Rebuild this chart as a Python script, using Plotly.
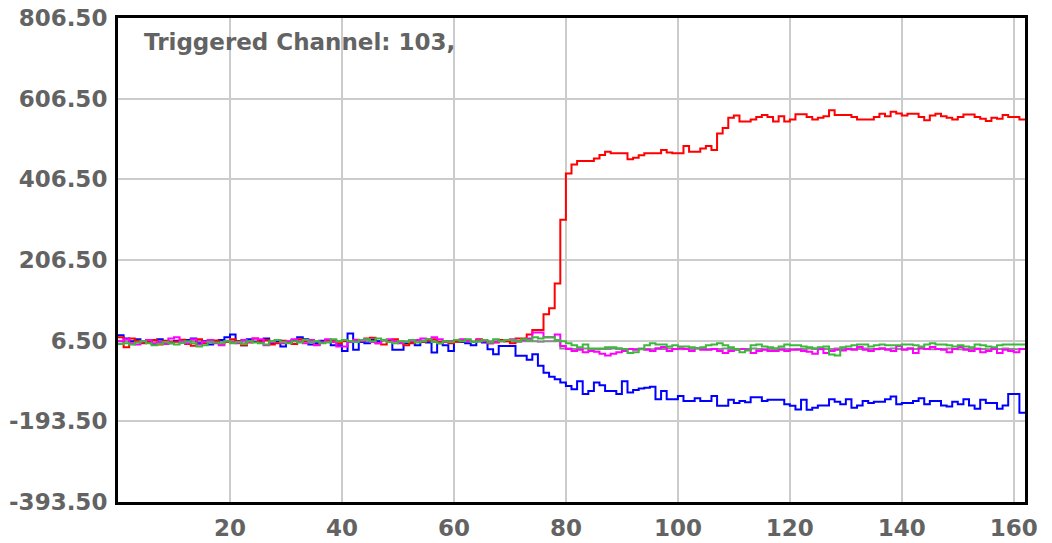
import plotly.graph_objects as go

# Bin index (each value holds over [i, i+1])
n_bins = 162

red = [15, -10, 12, 6, 0, 3, 8, -3, 6, 2,
       4, 9, -2, -6, 10, 0, 5, 7, -1, 3,
       10, 5, -5, 2, 12, 4, 8, -3, 0, 6,
       3, -2, 10, 5, 7, -4, 2, 8, 6, 0,
       5, 3, 9, 7, 12, 14, 0, -3, 5, 10,
       2, -5, 0, 8, 4, 6, 10, 3, 5, 0,
       4, 8, 6, 3, 10, 5, 0, 2, 8, 5,
       0, 12, 12, 22, 33, 33, 72, 87, 148, 306,
       421, 443, 452, 452, 452, 458, 467, 475, 471, 471,
       471, 456, 460, 466, 471, 471, 471, 479, 473, 471,
       471, 489, 475, 475, 483, 489, 479, 520, 534, 559,
       565, 550, 550, 555, 561, 566, 561, 550, 563, 550,
       555, 568, 568, 561, 555, 559, 563, 578, 566, 566,
       566, 561, 555, 555, 555, 561, 569, 563, 574, 570,
       565, 569, 569, 561, 553, 565, 569, 563, 559, 555,
       561, 567, 567, 561, 557, 551, 559, 557, 566, 561,
       561, 555]

blue = [20, 12, 5, 10, 3, 8, -2, 10, 4, 0,
        6, 2, 8, 12, 0, 5, -3, 3, 8, 15,
        22, 5, -5, 10, 3, 8, 12, 0, 5, -8,
        3, 8, 15, 10, -3, 0, 6, 8, -5, -5,
        -19, 24, -16, 3, 0, 8, 5, 8, 8, -16,
        -16, 0, 2, -5, 3, 2, -23, 0, -5, -19,
        5, 3, 0, -5, 8, 2, -15, -27, -7, -7,
        -7, -31, -31, -41, -27, -56, -73, -83, -89, -97,
        -106, -114, -94, -126, -118, -97, -104, -118, -118, -126,
        -94, -122, -116, -112, -110, -108, -139, -118, -139, -139,
        -131, -143, -143, -136, -143, -143, -131, -155, -155, -140,
        -148, -143, -146, -134, -134, -143, -140, -140, -140, -151,
        -155, -164, -140, -165, -160, -154, -154, -139, -145, -151,
        -139, -160, -154, -143, -148, -145, -145, -139, -132, -151,
        -148, -148, -143, -136, -151, -143, -143, -154, -157, -145,
        -151, -139, -154, -162, -140, -148, -148, -162, -154, -126,
        -126, -172]

green = [-2, 0, -3, 2, 5, 0, -5, -2, 3, 0,
         -3, 2, 5, 0, -8, -5, 3, 2, 0, 5,
         0, 3, -2, 5, 2, 0, -3, 5, 8, 3,
         0, 5, 2, 8, 3, 5, 0, 2, 10, 5,
         8, 5, 3, 8, 10, 5, 12, 8, 3, 0,
         5, 3, 8, 2, 5, 10, 3, 0, 5, 3,
         8, 5, 10, 3, 5, 8, 2, 10, 5, 8,
         8, 5, 10, 8, 15, 12, 15, 15, 8, 5,
         0, -5, -10, -3, -13, -13, -13, -10, -10, -12,
         -14, -24, -22, -15, -5, 0, -3, -3, -8, -5,
         -8, -8, -10, -12, -10, -5, -3, 0, -5, -10,
         -15, -22, -18, -5, -3, -8, -10, -12, -8, -3,
         -5, -5, -8, -10, -12, -10, -8, -28, -30, -10,
         -8, -5, -3, -3, -8, -5, -3, -5, -5, -5,
         -3, -3, -5, -8, -3, 0, -3, -3, -5, -8,
         -5, -8, -10, -3, -5, -8, -10, -5, -3, -3,
         -3, -3]

magenta = [5, 10, 0, -3, 5, 8, 0, 3, -2, 12,
           15, 5, 0, 10, -3, 3, 8, 0, -5, 5,
           2, 0, 8, 3, 12, 10, -5, 3, 8, 0,
           5, 10, 3, 0, 8, -5, 2, 10, 3, -8,
           -8, 3, 8, 5, 10, 3, 0, 8, 10, 5,
           0, 3, 5, 8, 12, 10, 15, 10, 3, 5,
           8, 10, 5, 3, 8, 5, 0, 3, 5, 8,
           10, 5, 8, 12, 27, 27, 15, 15, 22, -7,
           -14, -19, -16, -22, -19, -21, -26, -30, -26, -22,
           -19, -14, -16, -14, -16, -19, -12, -9, -19, -14,
           -12, -14, -19, -12, -16, -16, -14, -19, -24, -19,
           -16, -14, -16, -24, -19, -16, -19, -19, -16, -19,
           -16, -16, -19, -21, -26, -14, -24, -19, -16, -18,
           -14, -16, -9, -16, -19, -14, -12, -16, -19, -7,
           -16, -12, -24, -12, -14, -9, -14, -16, -22, -14,
           -9, -16, -19, -14, -22, -19, -14, -24, -16, -19,
           -22, -14]

gray = [5, 5, 4, 5, 5, 6, 5, 5, 4, 5,
        5, 5, 6, 5, 5, 4, 5, 5, 5, 6,
        5, 5, 4, 5, 5, 5, 6, 5, 5, 4,
        5, 5, 5, 6, 5, 5, 4, 5, 5, 5,
        6, 5, 5, 4, 5, 5, 5, 6, 5, 5,
        4, 5, 5, 5, 6, 5, 5, 4, 5, 5,
        5, 6, 5, 5, 4, 5, 5, 5, 6, 5,
        5, 4, 5, 5, 5, 4, 5, 5, 5, -13,
        -13, -14, -14, -13, -14, -15, -14, -14, -13, -14,
        -15, -14, -14, -13, -14, -15, -14, -14, -13, -14,
        -15, -14, -14, -13, -14, -15, -14, -14, -13, -14,
        -15, -14, -14, -13, -14, -15, -14, -14, -13, -14,
        -15, -14, -14, -13, -14, -15, -14, -14, -13, -14,
        -15, -14, -14, -13, -14, -15, -14, -14, -13, -14,
        -15, -14, -14, -13, -14, -15, -14, -14, -13, -14,
        -15, -14, -14, -13, -14, -15, -14, -14, -13, -14,
        -15, -14]

x_tick_vals = [20, 40, 60, 80, 100, 120, 140, 160]
y_tick_vals = [-393.5, -193.5, 6.5, 206.5, 406.5, 606.5, 806.5]
y_tick_text = ["-393.50", "-193.50", "6.50", "206.50", "406.50", "606.50", "806.50"]
title_text = "Triggered Channel: 103,"

series = [
    ("gray", gray, "#8a8a8a"),
    ("blue", blue, "#0000ff"),
    ("red", red, "#ff0000"),
    ("magenta", magenta, "#ff00ff"),
    ("green", green, "#3cb83c"),
]

fig = go.Figure()
xs = list(range(n_bins + 1))
for name, vals, col in series:
    ys = list(vals) + [vals[-1]]
    fig.add_trace(go.Scatter(x=xs, y=ys, mode="lines", name=name,
                             line=dict(color=col, width=2, shape="hv"),
                             showlegend=False))

tick_font = dict(family="DejaVu Sans", size=23, color="#636363", weight="bold")

fig.update_layout(
    width=1052, height=543,
    margin=dict(l=118, r=27, t=18, b=41),
    paper_bgcolor="white", plot_bgcolor="white",
    xaxis=dict(range=[0, 162], tickvals=x_tick_vals, showgrid=True,
               gridcolor="#cccccc", gridwidth=2, zeroline=False,
               showline=True, mirror=True, linecolor="black", linewidth=3,
               ticks="", tickfont=tick_font, ticklabelstandoff=3,
               automargin=False),
    yaxis=dict(range=[-393.5, 806.5], tickvals=y_tick_vals,
               ticktext=y_tick_text, showgrid=True,
               gridcolor="#cccccc", gridwidth=2, zeroline=False,
               showline=True, mirror=True, linecolor="black", linewidth=3,
               ticks="", tickfont=tick_font, ticklabelstandoff=3,
               automargin=False),
    annotations=[dict(text=title_text, xref="paper", yref="paper",
                      x=0.026, y=0.95, xanchor="left", yanchor="middle",
                      showarrow=False,
                      font=dict(family="DejaVu Sans", size=23,
                                color="#636363", weight="bold"))],
)

fig.write_html("out.html")
